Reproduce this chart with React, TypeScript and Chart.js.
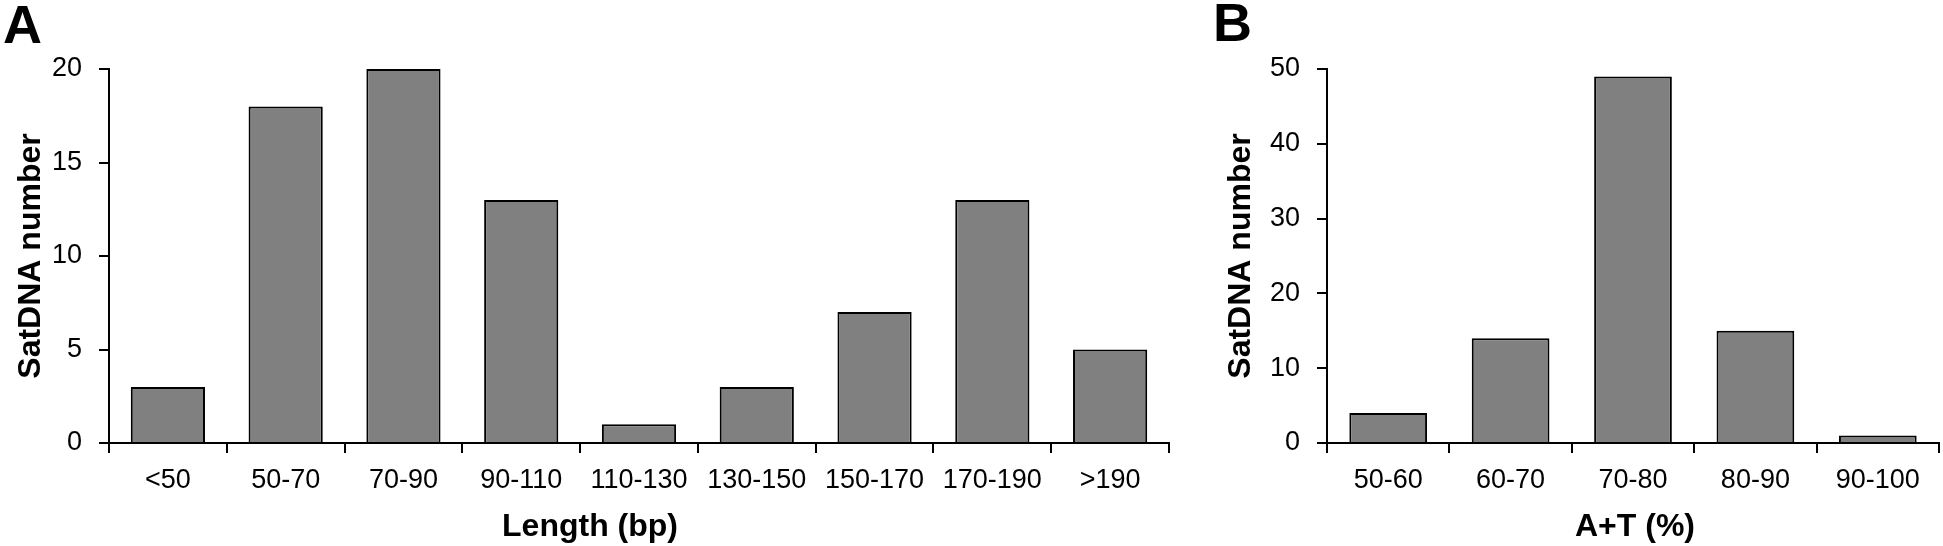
import React, { useEffect, useRef } from 'react';
import { Chart, registerables } from 'chart.js';

Chart.register(...registerables);

const FONT = "'Liberation Sans', Arial, Helvetica, sans-serif";

// Panel A data
const lengthCategories = ['<50', '50-70', '70-90', '90-110', '110-130', '130-150', '150-170', '170-190', '>190'];
const lengthCounts = [3, 18, 20, 13, 1, 3, 7, 13, 5];
const lengthYMax = 20;
const lengthYStep = 5;

// Panel B data
const atCategories = ['50-60', '60-70', '70-80', '80-90', '90-100'];
const atCounts = [4, 14, 49, 15, 1];
const atYMax = 50;
const atYStep = 10;

// Titles
const yTitleText = 'SatDNA number';
const lengthXTitle = 'Length (bp)';
const atXTitle = 'A+T (%)';

type PanelProps = {
  letter: string;
  labels: string[];
  values: number[];
  yMax: number;
  yStep: number;
  xTitle: string;
  width: number;
  height: number;
  left: number;
  plotLeft: number;
  plotRight: number;
  plotTop: number;
  plotBottom: number;
  barFraction: number;
  letterX: number;
  letterY: number;
  xTitleX: number;
  xTitleY: number;
  yTitleX: number;
};

function Panel(p: PanelProps) {
  const ref = useRef<HTMLCanvasElement | null>(null);
  useEffect(() => {
    if (!ref.current) return;
    const textPlugin = {
      id: 'panelText',
      afterDraw(chart: any) {
        const ctx = chart.ctx as CanvasRenderingContext2D;
        ctx.save();
        ctx.fillStyle = '#000';
        ctx.textBaseline = 'alphabetic';
        ctx.textAlign = 'left';
        ctx.font = `bold 54px ${FONT}`;
        ctx.fillText(p.letter, p.letterX, p.letterY);
        ctx.font = `bold 32px ${FONT}`;
        ctx.textAlign = 'center';
        ctx.fillText(p.xTitle, p.xTitleX, p.xTitleY);
        const cy = (chart.chartArea.top + chart.chartArea.bottom) / 2;
        ctx.translate(p.yTitleX, cy);
        ctx.rotate(-Math.PI / 2);
        ctx.fillText(yTitleText, 0, 0);
        ctx.restore();
      },
    };
    const chart = new Chart(ref.current, {
      type: 'bar',
      data: {
        labels: p.labels,
        datasets: [
          {
            data: p.values,
            backgroundColor: '#808080',
            borderColor: '#000000',
            borderWidth: 2,
            barPercentage: 1,
            categoryPercentage: p.barFraction,
          },
        ],
      },
      options: {
        responsive: false,
        animation: false,
        devicePixelRatio: 1,
        layout: {
          padding: { left: 0, top: p.plotTop, right: p.width - p.plotRight, bottom: 0 },
        },
        plugins: {
          legend: { display: false },
          tooltip: { enabled: false },
        },
        scales: {
          x: {
            type: 'category',
            offset: true,
            grid: {
              display: true,
              offset: true,
              drawOnChartArea: false,
              drawTicks: true,
              tickLength: 10,
              color: '#000',
              lineWidth: 2,
            },
            border: { display: true, color: '#000', width: 2 },
            ticks: {
              color: '#000',
              font: { family: FONT, size: 27 },
              padding: 11,
              maxRotation: 0,
              minRotation: 0,
              autoSkip: false,
            },
            afterFit: (s: any) => {
              s.height = p.height - p.plotBottom;
            },
          },
          y: {
            min: 0,
            max: p.yMax,
            grid: {
              display: true,
              drawOnChartArea: false,
              drawTicks: true,
              tickLength: 10,
              color: '#000',
              lineWidth: 2,
            },
            border: { display: true, color: '#000', width: 2 },
            ticks: {
              stepSize: p.yStep,
              color: '#000',
              font: { family: FONT, size: 27 },
              padding: 17,
            },
            afterFit: (s: any) => {
              s.width = p.plotLeft;
            },
          },
        },
      } as any,
      plugins: [textPlugin],
    });
    return () => chart.destroy();
  }, []);
  return (
    <canvas
      ref={ref}
      width={p.width}
      height={p.height}
      style={{ position: 'absolute', left: p.left, top: 0, width: p.width, height: p.height }}
    />
  );
}

export default function App() {
  return (
    <div style={{ position: 'absolute', left: 0, top: 0, width: 1943, height: 546, background: '#fff' }}>
      <Panel
        letter="A"
        labels={lengthCategories}
        values={lengthCounts}
        yMax={lengthYMax}
        yStep={lengthYStep}
        xTitle={lengthXTitle}
        width={1180}
        height={546}
        left={0}
        plotLeft={109}
        plotRight={1169}
        plotTop={69}
        plotBottom={443}
        barFraction={0.63}
        letterX={3}
        letterY={43}
        xTitleX={590}
        xTitleY={536}
        yTitleX={40}
      />
      <Panel
        letter="B"
        labels={atCategories}
        values={atCounts}
        yMax={atYMax}
        yStep={atYStep}
        xTitle={atXTitle}
        width={763}
        height={546}
        left={1180}
        plotLeft={147}
        plotRight={759}
        plotTop={69}
        plotBottom={443}
        barFraction={0.635}
        letterX={33}
        letterY={41}
        xTitleX={455}
        xTitleY={536}
        yTitleX={70}
      />
    </div>
  );
}
